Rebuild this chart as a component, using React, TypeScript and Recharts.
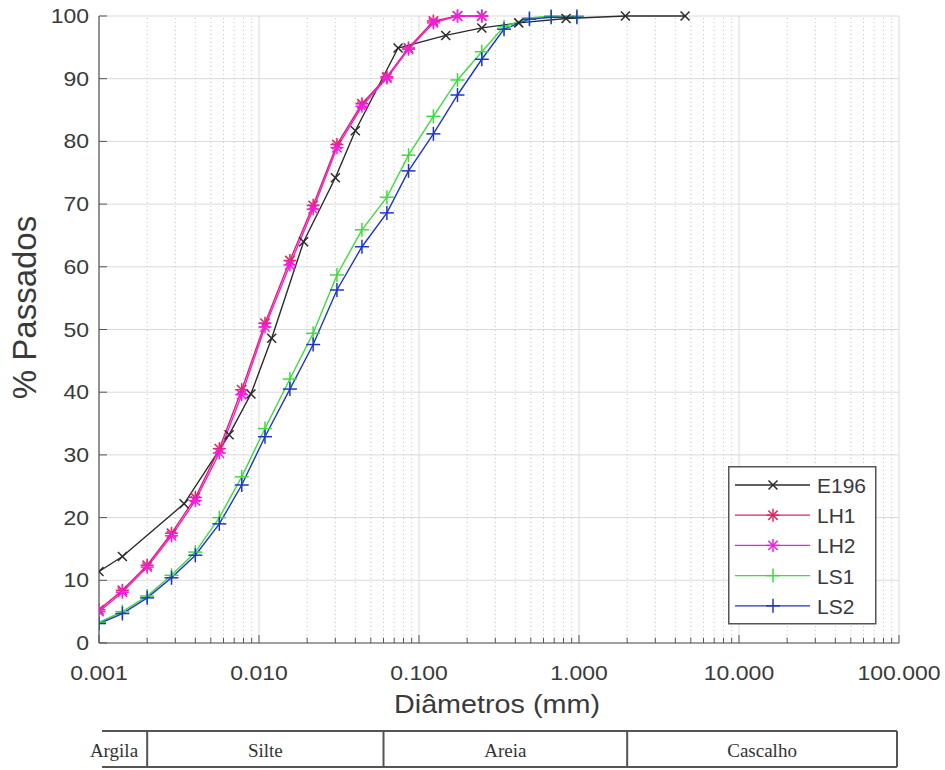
import { LineChart, Line, XAxis, YAxis, CartesianGrid, ReferenceLine, Legend } from "recharts";

// E196
const diamE196 = [0.001, 0.0014, 0.0034, 0.0065, 0.0089, 0.012, 0.019, 0.03, 0.04, 0.074, 0.147, 0.247, 0.42, 0.83, 1.95, 4.6];
const passE196 = [11.4, 13.8, 22.2, 33.2, 39.7, 48.6, 64.0, 74.2, 81.7, 94.9, 96.9, 98.1, 98.9, 99.6, 100, 100];

// LH1 / LH2
const diamLH = [0.001, 0.0014, 0.002, 0.00284, 0.004, 0.00565, 0.0078, 0.0109, 0.0156, 0.0218, 0.0307, 0.044, 0.063, 0.086, 0.123, 0.174, 0.247];
const passLH1 = [5.3, 8.4, 12.4, 17.5, 23.2, 31.0, 40.4, 51.0, 61.0, 69.8, 79.5, 86.0, 90.3, 94.9, 99.2, 100, 100];
const passLH2 = [5.0, 8.1, 12.1, 17.1, 22.7, 30.3, 39.6, 50.4, 60.3, 69.2, 79.0, 85.6, 90.1, 94.7, 98.9, 100, 100];

// LS1 / LS2
const diamLS = [0.001, 0.0014, 0.002, 0.00284, 0.004, 0.00565, 0.0078, 0.0109, 0.0156, 0.0218, 0.0307, 0.044, 0.063, 0.086, 0.123, 0.174, 0.247, 0.34, 0.49, 0.67, 0.97];
const passLS1 = [3.3, 5.0, 7.5, 10.8, 14.5, 20.0, 26.5, 34.2, 42.1, 49.4, 58.7, 65.9, 71.1, 77.8, 84.0, 89.8, 94.3, 98.3, 99.7, 100, 100];
const passLS2 = [3.1, 4.7, 7.2, 10.4, 14.0, 19.0, 25.2, 32.9, 40.5, 47.6, 56.3, 63.2, 68.6, 75.3, 81.2, 87.4, 93.1, 97.9, 99.5, 99.8, 99.8];

const xTicks = [0.001, 0.01, 0.1, 1, 10, 100];
const yTicks = [0, 10, 20, 30, 40, 50, 60, 70, 80, 90, 100];
const minorTicks = [0.001, 0.01, 0.1, 1, 10].flatMap((d) => [2, 3, 4, 5, 6, 7, 8, 9].map((m) => +(d * m).toPrecision(3)));

const soilNames = ["Argila", "Silte", "Areia", "Cascalho"];

const FONT = "'Liberation Sans', Arial, sans-serif";
const AXIS = "#555";
const TEXT = "#3a3a3a";

type Shape = "x" | "star" | "plus";

const zip = (xs: number[], ys: number[]) => xs.map((d, i) => ({ d, p: ys[i] }));

const series = [
  { name: "E196", color: "#2b2b2b", shape: "x" as Shape, size: 4.5, data: zip(diamE196, passE196) },
  { name: "LH1", color: "#e0245e", shape: "star" as Shape, size: 6.5, data: zip(diamLH, passLH1) },
  { name: "LH2", color: "#f21de6", shape: "star" as Shape, size: 6.5, data: zip(diamLH, passLH2) },
  { name: "LS1", color: "#3ddc3d", shape: "plus" as Shape, size: 7, data: zip(diamLS, passLS1) },
  { name: "LS2", color: "#1f35c8", shape: "plus" as Shape, size: 7, data: zip(diamLS, passLS2) },
];

function Marker({ cx, cy, shape, color, r }: { cx?: number; cy?: number; shape: Shape; color: string; r: number }) {
  if (cx == null || cy == null) return null;
  const d = shape === "star" ? r * 0.72 : r;
  return (
    <g stroke={color} strokeWidth={1.5} fill="none">
      {(shape === "x" || shape === "star") && (
        <>
          <line x1={cx - d} y1={cy - d} x2={cx + d} y2={cy + d} />
          <line x1={cx - d} y1={cy + d} x2={cx + d} y2={cy - d} />
        </>
      )}
      {(shape === "plus" || shape === "star") && (
        <>
          <line x1={cx - r} y1={cy} x2={cx + r} y2={cy} />
          <line x1={cx} y1={cy - r} x2={cx} y2={cy + r} />
        </>
      )}
    </g>
  );
}

const XTick = ({ x, y, payload }: any) => (
  <g>
    <line x1={x} x2={x} y1={y} y2={y - 8} stroke={AXIS} />
    <text transform={`translate(${x},${y + 37}) scale(1.15,1)`} textAnchor="middle" fontSize={20} fill={TEXT} fontFamily={FONT}>
      {Number(payload.value).toFixed(3)}
    </text>
  </g>
);

const YTick = ({ x, y, payload }: any) => (
  <g>
    <line x1={x} x2={x + 8} y1={y} y2={y} stroke={AXIS} />
    <text transform={`translate(${x - 10},${y + 7}) scale(1.15,1)`} textAnchor="end" fontSize={20} fill={TEXT} fontFamily={FONT}>
      {payload.value}
    </text>
  </g>
);

const renderLegend = () => (
  <svg width={150} height={160} style={{ display: "block" }}>
    <rect x={0.75} y={0.75} width={147} height={157} fill="#fff" stroke="#555" strokeWidth={1.5} />
    {series.map((s, i) => {
      const y = 19 + i * 30.2;
      return (
        <g key={s.name}>
          <line x1={7} x2={82} y1={y} y2={y} stroke={s.color} strokeWidth={1.3} />
          <Marker cx={45} cy={y} shape={s.shape} color={s.color} r={s.shape === "plus" ? 7 : s.size} />
          <text x={89} y={y + 8} fontSize={21} fill={TEXT} fontFamily={FONT}>
            {s.name}
          </text>
        </g>
      );
    })}
  </svg>
);

// bottom soil classification strip
const plotLeft = 99;
const decade = 160;
const toX = (d: number) => plotLeft + decade * (Math.log10(d) + 3);
const soilBounds = [0.002, 0.06, 2];

function SoilStrip() {
  const edges = [102, ...soilBounds.map(toX), 897];
  const top = 731;
  const bottom = 767;
  return (
    <svg width={945} height={770} style={{ position: "absolute", left: 0, top: 0, pointerEvents: "none" }}>
      <line x1={102} x2={897} y1={top} y2={top} stroke="#555" strokeWidth={2} />
      <line x1={102} x2={897} y1={bottom} y2={bottom} stroke="#555" strokeWidth={2} />
      {edges.slice(1).map((x, i) => (
        <line key={i} x1={x} x2={x} y1={top} y2={bottom} stroke="#555" strokeWidth={2} />
      ))}
      {soilNames.map((n, i) => (
        <text
          key={n}
          x={i === 0 ? 114 : (edges[i] + edges[i + 1]) / 2}
          y={757}
          textAnchor="middle"
          fontSize={19}
          fill="#333"
          fontFamily="'Liberation Serif', 'Times New Roman', serif"
        >
          {n}
        </text>
      ))}
    </svg>
  );
}

export default function App() {
  return (
    <div style={{ position: "absolute", left: 0, top: 0, width: 945, height: 770, background: "#fff" }}>
      <LineChart width={945} height={770} margin={{ top: 16, right: 46, left: 39, bottom: 87 }} style={{ fontFamily: FONT }}>
        <CartesianGrid stroke="#dadada" strokeWidth={1} />
        {minorTicks.map((v) => (
          <ReferenceLine key={`g${v}`} x={v} stroke="#c4c4c4" strokeDasharray="1 3" zIndex={-50} />
        ))}
        {minorTicks.map((v) => (
          <ReferenceLine key={`t${v}`} segment={[{ x: v, y: 0 }, { x: v, y: 0.85 }]} stroke={AXIS} />
        ))}
        <XAxis
          dataKey="d"
          type="number"
          scale="log"
          domain={[0.001, 100]}
          ticks={xTicks}
          allowDataOverflow
          height={40}
          tickSize={0}
          tickMargin={0}
          tickLine={false}
          axisLine={{ stroke: AXIS, strokeWidth: 1.2 }}
          tick={<XTick />}
          label={{
            content: ({ viewBox }: any) => (
              <text
                transform={`translate(${viewBox.x + viewBox.width / 2 - 2},${viewBox.y + 70}) scale(1.15,1)`}
                textAnchor="middle"
                fontSize={25}
                fill={TEXT}
                fontFamily={FONT}
              >
                Diâmetros (mm)
              </text>
            ),
          }}
        />
        <YAxis
          type="number"
          domain={[0, 100]}
          ticks={yTicks}
          width={60}
          tickSize={0}
          tickMargin={0}
          tickLine={false}
          axisLine={{ stroke: AXIS, strokeWidth: 1.2 }}
          tick={<YTick />}
          label={{
            content: ({ viewBox }: any) => (
              <text
                transform={`translate(${viewBox.x - 3},${viewBox.y + viewBox.height / 2 - 22}) rotate(-90)`}
                textAnchor="middle"
                fontSize={33}
                fill={TEXT}
                fontFamily={FONT}
              >
                % Passados
              </text>
            ),
          }}
        />
        <Legend
          layout="vertical"
          align="center"
          verticalAlign="middle"
          content={renderLegend}
          wrapperStyle={{ left: 728, top: 466, width: 150, height: 160 }}
        />
        {series.map((s) => (
          <Line
            key={s.name}
            name={s.name}
            data={s.data}
            dataKey="p"
            type="linear"
            stroke={s.color}
            strokeWidth={1.4}
            isAnimationActive={false}
            activeDot={false}
            dot={(props: any) => (
              <Marker key={`${s.name}-${props.index}`} cx={props.cx} cy={props.cy} shape={s.shape} color={s.color} r={s.size} />
            )}
          />
        ))}
      </LineChart>
      <SoilStrip />
    </div>
  );
}
